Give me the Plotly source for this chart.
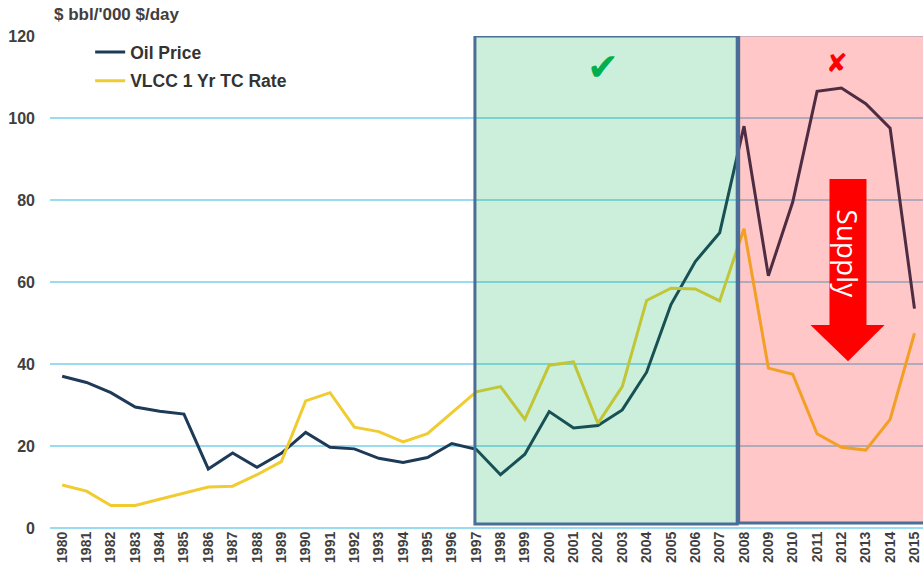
import plotly.graph_objects as go

years = list(range(1980, 2016))
oil_price = [37, 35.5, 33, 29.5, 28.5, 27.8, 14.4, 18.3, 14.8, 18.2, 23.3, 19.7,
             19.3, 17, 16, 17.2, 20.6, 19.2, 13, 18, 28.4, 24.4, 25, 28.8,
             38, 54.5, 65, 72, 98, 61.5, 79.5, 106.5, 107.3, 103.5, 97.5, 53.5]
vlcc_rate = [10.5, 9, 5.5, 5.5, 7, 8.5, 10, 10.2, 13, 16.2, 31, 33,
             24.6, 23.5, 21, 23, 28, 33.2, 34.5, 26.5, 39.7, 40.5, 25.5, 34.5,
             55.5, 58.5, 58.3, 55.4, 73, 39, 37.5, 23, 19.7, 19, 26.5, 47.5]
tick_labels = [str(y) for y in years]

fig = go.Figure()
fig.add_trace(go.Scatter(x=years, y=oil_price, mode="lines", name="<b>Oil Price</b>",
                         legendgroup="oil", line=dict(color="#1d3a56", width=3)))
fig.add_trace(go.Scatter(x=years, y=vlcc_rate, mode="lines", name="<b>VLCC 1 Yr TC Rate</b>",
                         legendgroup="vlcc", line=dict(color="#f0cc30", width=3)))

# shaded regions
fig.add_shape(type="rect", xref="x", yref="y", x0=1996.95, x1=2007.72, y0=1, y1=120,
              fillcolor="rgba(0,176,80,0.2)", line=dict(color="#4a6e98", width=3), layer="above")
fig.add_shape(type="rect", xref="x", yref="y", x0=2007.78, x1=2015.6, y0=1.2, y1=120.3,
              fillcolor="rgba(255,0,0,0.22)", line=dict(color="#4a6e98", width=3), layer="above")

# arrow
path = ("M 2011.51 85.1 L 2013.03 85.1 L 2013.03 49.5 L 2013.77 49.5 "
        "L 2012.27 40.7 L 2010.73 49.5 L 2011.51 49.5 Z")
fig.add_shape(type="path", xref="x", yref="y", path=path, fillcolor="#ff0000",
              line=dict(width=0), layer="above")
fig.add_annotation(x=2012.27, y=67.0, xref="x", yref="y", text="Supply", showarrow=False,
                   textangle=90, font=dict(family="Open Sans", size=28, color="white"))

fig.add_annotation(x=2002.2, y=112.5, xref="x", yref="y", text="✔", showarrow=False,
                   font=dict(family="DejaVu Sans", size=38, color="#00b050"))
fig.add_annotation(x=2011.8, y=113.5, xref="x", yref="y", text="✘", showarrow=False,
                   font=dict(family="DejaVu Sans", size=26, color="#ff0000"))

fig.add_annotation(x=0, y=1.0, xref="paper", yref="paper", xanchor="left", yanchor="bottom",
                   yshift=10, xshift=2, text="<b>$ bbl/'000 $/day</b>", showarrow=False,
                   font=dict(family="Liberation Sans", size=17, color="#404040"))

fig.update_layout(
    width=923, height=580,
    margin=dict(l=50, r=0, t=36, b=52, autoexpand=False),
    plot_bgcolor="white", paper_bgcolor="white",
    showlegend=True,
    legend=dict(x=0.046, y=1.004, xanchor="left", yanchor="top",
                bgcolor="rgba(255,255,255,0.9)",
                font=dict(family="Liberation Sans", size=17.5, color="#333333"),
                tracegroupgap=3, itemwidth=30),
    font=dict(family="Liberation Sans"),
)
fig.update_xaxes(range=[1979.5, 2015.35], tickmode="array", tickvals=years,
                 ticktext=[f"<b>{t}</b>" for t in tick_labels], tickangle=-90,
                 tickfont=dict(size=14, color="#404040"), showgrid=False,
                 showline=False, zeroline=False, ticks="", automargin=False)
fig.update_yaxes(range=[0, 120], dtick=20, showgrid=True, gridcolor="#99dcf0",
                 gridwidth=1.5, zeroline=True, zerolinecolor="#99dcf0", zerolinewidth=2,
                 tickfont=dict(size=16, color="#404040"), ticks="",
                 tickprefix="<b>", ticksuffix="</b>", ticklabelstandoff=14, automargin=False)

fig.write_html("out.html", config={"displayModeBar": False},
               post_script="document.body.style.margin='0';document.body.style.overflow='hidden';")
